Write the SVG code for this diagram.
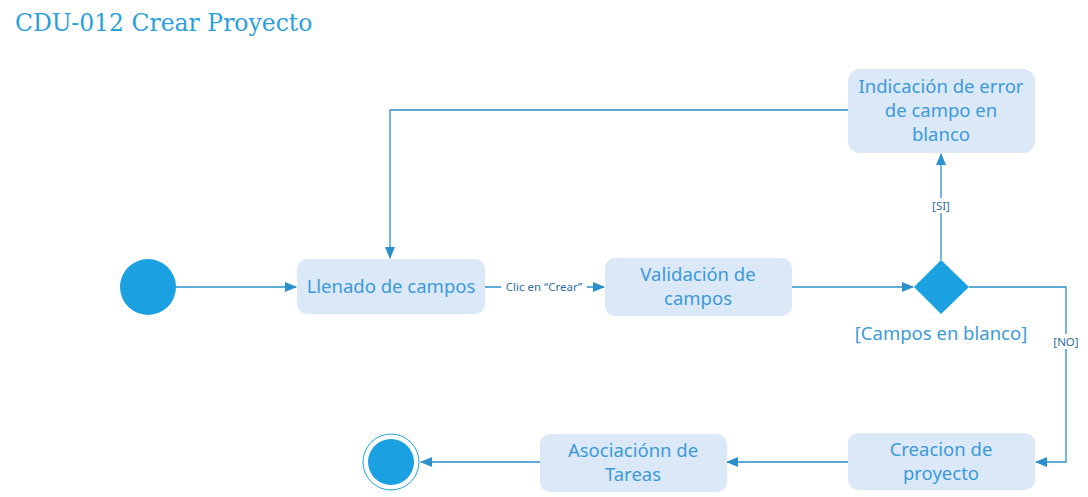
<svg xmlns="http://www.w3.org/2000/svg" width="1088" height="497" viewBox="0 0 1088 497">
<style>
.box{fill:#dae8f7;}
.t{font-family:"Noto Sans","Open Sans",sans-serif;font-size:18.5px;fill:#3d9ad6;text-anchor:middle;}
.lbl{font-family:"Noto Sans","Open Sans",sans-serif;font-size:11.5px;fill:#2f6f9e;text-anchor:middle;}
.ln{fill:none;stroke:#2b90cc;stroke-width:1.3;}
.title{font-family:"DejaVu Serif","Liberation Serif",serif;font-size:23.5px;fill:#2aa0da;}
</style>
<defs>
<marker id="ah" markerWidth="12" markerHeight="10" refX="11" refY="5" orient="auto" markerUnits="userSpaceOnUse">
<path d="M0,0 L12,5 L0,10 z" fill="#2b90cc"/>
</marker>
</defs>
<rect width="1088" height="497" fill="#ffffff"/>
<text class="title" x="15" y="31">CDU-012 Crear Proyecto</text>
<g id="connectors">
<path class="ln" d="M176,287 H296" marker-end="url(#ah)"/>
<path class="ln" d="M485,287 H604" marker-end="url(#ah)"/>
<rect x="501" y="279" width="86" height="15" fill="#ffffff"/>
<text class="lbl" x="544" y="291">Clic en  “Crear”</text>
<path class="ln" d="M792,287 H913" marker-end="url(#ah)"/>
<path class="ln" d="M941,260 V154" marker-end="url(#ah)"/>
<rect x="928" y="198" width="26" height="15" fill="#ffffff"/>
<text class="lbl" x="941" y="210">[SI]</text>
<path class="ln" d="M848,110 H390 V258" marker-end="url(#ah)"/>
<path class="ln" d="M969,287 H1066 V462 H1036" marker-end="url(#ah)"/>
<rect x="1050" y="334" width="32" height="15" fill="#ffffff"/>
<text class="lbl" x="1066" y="346">[NO]</text>
<path class="ln" d="M848,462 H727" marker-end="url(#ah)"/>
<path class="ln" d="M540,462 H421" marker-end="url(#ah)"/>
</g>
<g id="start"><circle cx="148" cy="287" r="28" fill="#1ba1e2"/></g>
<g id="llenado">
<rect class="box" x="297" y="259" width="188" height="55" rx="10"/>
<text class="t" x="391" y="293">Llenado de campos</text>
</g>
<g id="validacion">
<rect class="box" x="605" y="258" width="187" height="58" rx="10"/>
<text class="t" x="698" y="281">Validación de</text>
<text class="t" x="698" y="305">campos</text>
</g>
<g id="decision">
<path d="M941,260 L969,287 L941,314 L914,287 z" fill="#1ba1e2"/>
<text class="t" x="941" y="340">[Campos en blanco]</text>
</g>
<g id="error">
<rect class="box" x="848" y="69" width="187" height="84" rx="12"/>
<text class="t" x="941" y="93">Indicación de error</text>
<text class="t" x="941" y="117">de campo en</text>
<text class="t" x="941" y="141">blanco</text>
</g>
<g id="creacion">
<rect class="box" x="848" y="433" width="187" height="57" rx="10"/>
<text class="t" x="941" y="456">Creacion de</text>
<text class="t" x="941" y="480">proyecto</text>
</g>
<g id="asociacion">
<rect class="box" x="540" y="434" width="187" height="58" rx="10"/>
<text class="t" x="633" y="457">Asociaciónn de</text>
<text class="t" x="633" y="481">Tareas</text>
</g>
<g id="end">
<circle cx="391" cy="462" r="28" fill="#ffffff" stroke="#1ba1e2" stroke-width="1"/>
<circle cx="391" cy="462" r="23" fill="#1ba1e2"/>
</g>
</svg>
